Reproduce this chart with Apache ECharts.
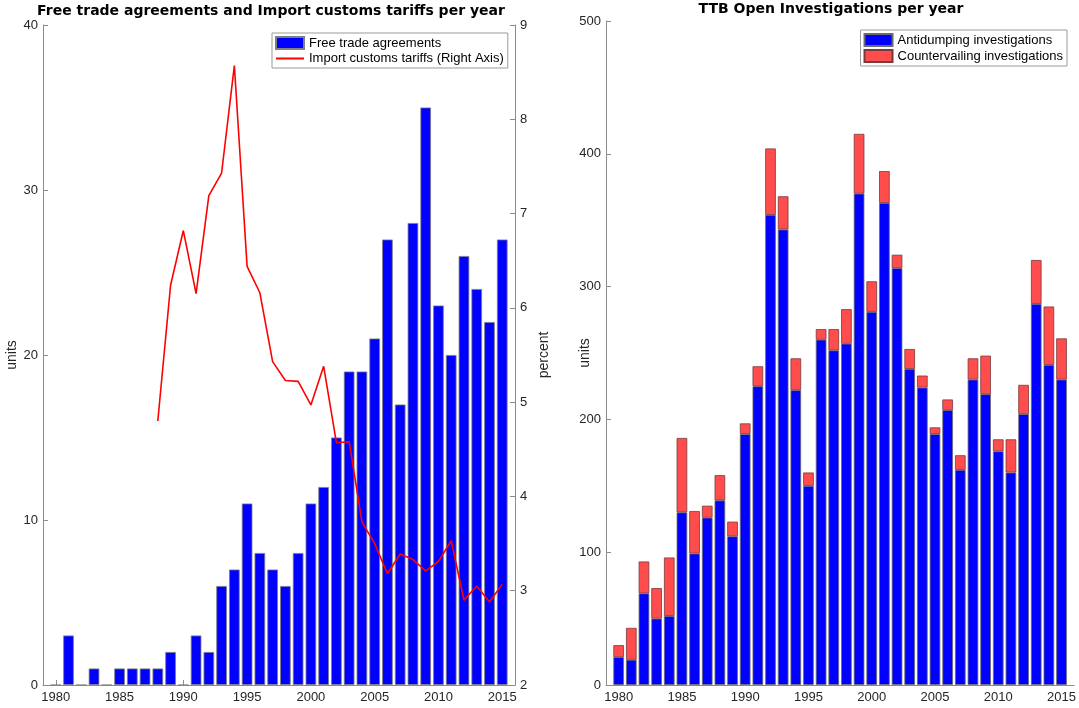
<!doctype html>
<html lang="en">
<head>
  <meta charset="UTF-8">
  <title>Free trade agreements and TTB investigations</title>
  <script src="https://cdn.jsdelivr.net/npm/echarts@6/dist/echarts.min.js"></script>
  <style>
    html, body { margin: 0; padding: 0; background: #fff; }
    #main { width: 1079px; height: 708px; }
  </style>
</head>
<body>
<div id="main"></div>
<script>
  // years shown on both charts
  var years = [1980, 1981, 1982, 1983, 1984, 1985, 1986, 1987, 1988, 1989,
               1990, 1991, 1992, 1993, 1994, 1995, 1996, 1997, 1998, 1999,
               2000, 2001, 2002, 2003, 2004, 2005, 2006, 2007, 2008, 2009,
               2010, 2011, 2012, 2013, 2014, 2015];

  // left chart: free trade agreements (units)
  var ftaCounts = [0, 3, 0, 1, 0, 1, 1, 1, 1, 2,
                   0, 3, 2, 6, 7, 11, 8, 7, 6, 8,
                   11, 12, 15, 19, 19, 21, 27, 17, 28, 35,
                   23, 20, 26, 24, 22, 27];

  // left chart: import customs tariffs (percent, right axis)
  var tariffYears = [1988, 1989, 1990, 1991, 1992, 1993, 1994, 1995, 1996, 1997,
                     1998, 1999, 2000, 2001, 2002, 2003, 2004, 2005, 2006, 2007,
                     2008, 2009, 2010, 2011, 2012, 2013, 2014, 2015];
  var tariffs = [4.80, 6.24, 6.82, 6.15, 7.19, 7.43, 8.57, 6.44, 6.16, 5.43,
                 5.23, 5.22, 4.97, 5.38, 4.57, 4.58, 3.73, 3.50, 3.18, 3.39,
                 3.33, 3.21, 3.31, 3.53, 2.90, 3.05, 2.88, 3.07];

  // right chart: TTB open investigations
  var antidumping = [21, 19, 69, 50, 52, 130, 99, 126, 139, 112,
                     189, 225, 354, 343, 222, 150, 260, 252, 257, 370,
                     281, 363, 314, 238, 224, 189, 207, 162, 230, 219,
                     176, 160, 204, 287, 241, 230];
  var countervailing = [9, 24, 24, 23, 44, 56, 32, 9, 19, 11,
                        8, 15, 50, 25, 24, 10, 8, 16, 26, 45,
                        23, 24, 10, 15, 9, 5, 8, 11, 16, 29,
                        9, 25, 22, 33, 44, 31];

  var leftTicks = [0, 10, 20, 30, 40];
  var rightTicks = [2, 3, 4, 5, 6, 7, 8, 9];
  var ttbTicks = [0, 100, 200, 300, 400, 500];

  // the x axis runs one year past the data on each side
  var axisYears = [years[0] - 1].concat(years, [years[years.length - 1] + 1]).map(String);

  function pairs(xs, ys) {
    return xs.map(function (x, i) { return [String(x), ys[i]]; });
  }

  var FONT = 'Liberation Sans';
  var AXIS_GRAY = '#8c8c8c';
  var LABEL = '#262626';

  function everyFive(index, value) {
    return Number(value) % 5 === 0;
  }

  function xAxis(gridIndex) {
    return {
      type: 'category', gridIndex: gridIndex,
      data: axisYears, boundaryGap: false,
      axisLine: { lineStyle: { color: AXIS_GRAY } },
      axisTick: { inside: true, length: 5, interval: everyFive, lineStyle: { color: AXIS_GRAY } },
      axisLabel: { color: LABEL, fontFamily: FONT, fontSize: 13, margin: 6, interval: everyFive },
      splitLine: { show: false }
    };
  }

  function yAxis(gridIndex, ticks, pos, name, nameGap) {
    return {
      type: 'value', gridIndex: gridIndex, position: pos,
      min: ticks[0], max: ticks[ticks.length - 1],
      interval: ticks[1] - ticks[0],
      name: name, nameLocation: 'middle', nameGap: nameGap, nameMoveOverlap: false,
      nameTextStyle: { color: LABEL, fontFamily: FONT, fontSize: 14 },
      axisLine: { show: true, lineStyle: { color: AXIS_GRAY } },
      axisTick: { show: true, inside: true, length: 5, lineStyle: { color: AXIS_GRAY } },
      axisLabel: { color: LABEL, fontFamily: FONT, fontSize: 13, margin: 5 },
      splitLine: { show: false }
    };
  }

  function legend(pos, names, icons) {
    return Object.assign({
      orient: 'vertical',
      data: names.map(function (n, i) { return { name: n, icon: icons[i] }; }),
      itemWidth: 28, itemHeight: 12, itemGap: 2,
      padding: [3, 4, 3, 3],
      borderColor: '#9a9a9a', borderWidth: 1, borderRadius: 0,
      textStyle: { color: '#000', fontFamily: FONT, fontSize: 13 }
    }, pos);
  }

  var chart = echarts.init(document.getElementById('main'));
  var option = {
    animation: false,
    backgroundColor: '#fff',
    textStyle: { fontFamily: FONT },
    grid: [
      { left: 43, right: 564, top: 25, bottom: 23 },
      { left: 606, right: 2, top: 21, bottom: 23 }
    ],
    xAxis: [xAxis(0), xAxis(1)],
    yAxis: [
      yAxis(0, leftTicks, 'left', 'units', 24),
      yAxis(0, rightTicks, 'right', 'percent', 22),
      yAxis(1, ttbTicks, 'left', 'units', 14)
    ],
    legend: [
      legend({ left: 272, top: 33 },
        ['Free trade agreements', 'Import customs tariffs (Right Axis)'],
        ['rect', 'path://M0,0 L28,0 L28,2 L0,2 Z']),
      legend({ right: 12, top: 30 },
        ['Antidumping investigations', 'Countervailing investigations'],
        ['rect', 'rect'])
    ],
    graphic: [
      {
        type: 'text', x: 271, y: 11,
        style: {
          text: 'Free trade agreements and Import customs tariffs per year',
          fill: '#000', font: 'bold 14px "DejaVu Sans"',
          textAlign: 'center', textVerticalAlign: 'middle'
        }
      },
      {
        type: 'text', x: 831, y: 9,
        style: {
          text: 'TTB Open Investigations per year',
          fill: '#000', font: 'bold 14px "DejaVu Sans"',
          textAlign: 'center', textVerticalAlign: 'middle'
        }
      }
    ],
    series: [
      {
        name: 'Free trade agreements', type: 'bar',
        xAxisIndex: 0, yAxisIndex: 0,
        barWidth: 10.6,
        data: pairs(years, ftaCounts),
        itemStyle: { color: '#0000ff', borderColor: '#808080', borderWidth: 0.8 }
      },
      {
        name: 'Import customs tariffs (Right Axis)', type: 'line',
        xAxisIndex: 0, yAxisIndex: 1,
        symbol: 'none', showSymbol: false,
        data: pairs(tariffYears, tariffs),
        lineStyle: { color: '#ff0000', width: 1.6 },
        itemStyle: { color: '#ff0000' }
      },
      {
        name: 'Antidumping investigations', type: 'bar', stack: 'ttb',
        xAxisIndex: 1, yAxisIndex: 2,
        barWidth: 10.6,
        data: pairs(years, antidumping),
        itemStyle: { color: '#0000ff', borderColor: '#6b6b6b', borderWidth: 0.8 }
      },
      {
        name: 'Countervailing investigations', type: 'bar', stack: 'ttb',
        xAxisIndex: 1, yAxisIndex: 2,
        barWidth: 10.6,
        data: pairs(years, countervailing),
        itemStyle: { color: '#ff4d4d', borderColor: '#7a3a3a', borderWidth: 0.8 }
      }
    ]
  };
  chart.setOption(option);
</script>
</body>
</html>
